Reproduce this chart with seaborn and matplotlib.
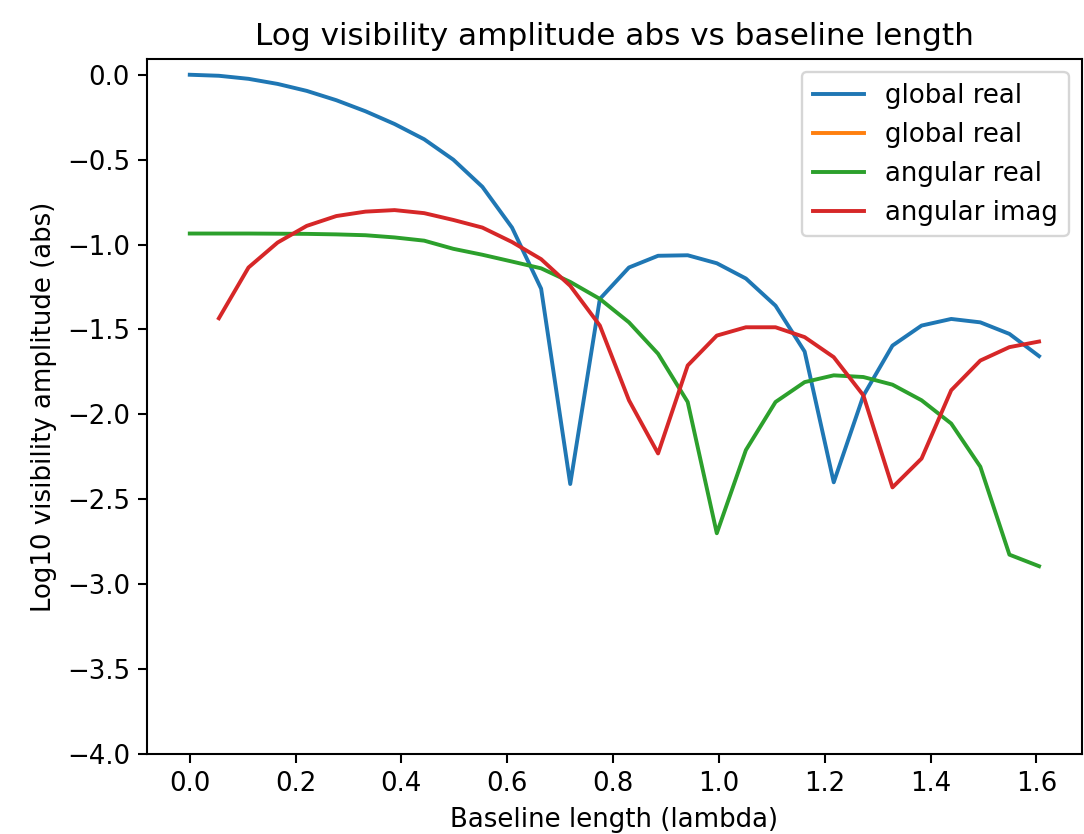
import matplotlib
matplotlib.use('Agg')
import matplotlib.pyplot as plt
import seaborn as sns
import numpy as np

# Baseline lengths (lambda)
baseline = [0.000, 0.055, 0.111, 0.166, 0.221, 0.277, 0.332, 0.387, 0.443, 0.498,
            0.553, 0.609, 0.664, 0.719, 0.775, 0.830, 0.885, 0.941, 0.996, 1.051,
            1.107, 1.162, 1.217, 1.273, 1.328, 1.383, 1.439, 1.494, 1.549, 1.605]

global_real = [0.0, -0.006, -0.024, -0.054, -0.095, -0.15, -0.215, -0.29, -0.38, -0.50,
               -0.66, -0.90, -1.26, -2.41, -1.32, -1.135, -1.066, -1.063, -1.11, -1.20,
               -1.36, -1.63, -2.40, -1.89, -1.595, -1.477, -1.438, -1.458, -1.526, -1.657]

# global imag is zero everywhere -> log10 gives -inf, nothing is drawn
global_imag = []

angular_real = [-0.935, -0.935, -0.935, -0.936, -0.937, -0.94, -0.945, -0.958, -0.977, -1.025,
                -1.06, -1.10, -1.14, -1.22, -1.32, -1.458, -1.643, -1.927, -2.70, -2.21,
                -1.927, -1.81, -1.77, -1.78, -1.825, -1.917, -2.054, -2.308, -2.826, -2.894]

angular_imag = [np.nan, -1.434, -1.135, -0.988, -0.89, -0.832, -0.806, -0.797, -0.815, -0.855,
                -0.90, -0.985, -1.086, -1.243, -1.477, -1.917, -2.23, -1.712, -1.536, -1.487,
                -1.487, -1.545, -1.663, -1.888, -2.43, -2.26, -1.858, -1.683, -1.604, -1.571]

# plain matplotlib look, slightly scaled up to match the screenshot
plt.rcParams.update({
    'font.size': 11,
    'lines.linewidth': 1.65,
    'axes.linewidth': 0.88,
    'xtick.major.size': 3.85,
    'ytick.major.size': 3.85,
    'xtick.major.width': 0.88,
    'ytick.major.width': 0.88,
})

fig = plt.figure(figsize=(1084 / 170, 834 / 170), dpi=170)
ax = fig.add_axes([0.1359, 0.0959, 0.8618, 0.833])

sns.lineplot(x=baseline, y=global_real, ax=ax, color='#1f77b4', label='global real')
ax.plot(global_imag, global_imag, color='#ff7f0e', label='global real')
sns.lineplot(x=baseline, y=angular_real, ax=ax, color='#2ca02c', label='angular real')
sns.lineplot(x=baseline, y=angular_imag, ax=ax, color='#d62728', label='angular imag')

ax.set_ylim(-4.0, 0.091)
ax.set_title('Log visibility amplitude abs vs baseline length')
ax.set_xlabel('Baseline length (lambda)')
ax.set_ylabel('Log10 visibility amplitude (abs)')
ax.legend(loc='upper right')

fig.savefig('out.png', dpi=170)
plt.close(fig)
